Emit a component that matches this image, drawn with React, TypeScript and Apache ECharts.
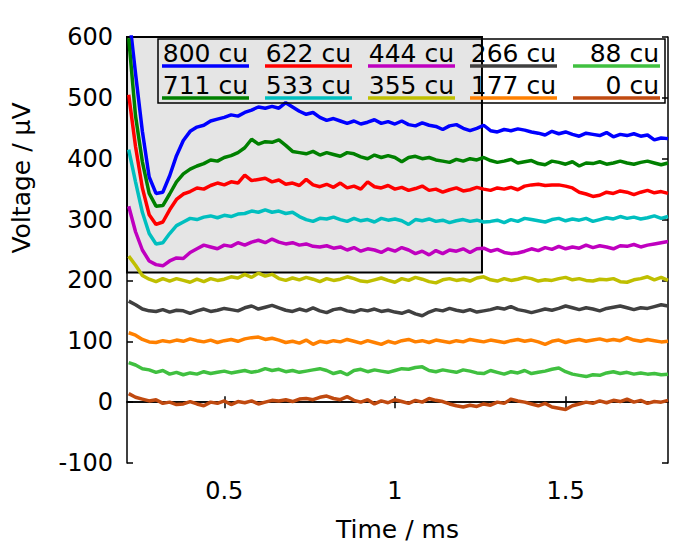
import React, { useEffect, useRef } from "react";
import * as echarts from "echarts";

// ---- data ----
const TIME_START = 0.22;
const TIME_STEP = 0.02;
const TIME_COUNT = 80;
const TIMES: number[] = Array.from({ length: TIME_COUNT }, (_, i) => +(TIME_START + TIME_STEP * i).toFixed(2));

const X_MIN = 0.215;
const X_MAX = 1.8;
const X_TICKS = [0.5, 1, 1.5];
const Y_MIN = -100;
const Y_MAX = 600;
const Y_STEP = 100;

const V800 = [
  640, 540, 445, 370, 343, 345, 372, 405, 430, 445,
  452, 455, 462, 465, 468, 472, 470, 476, 480, 485,
  483, 486, 483, 492, 485, 478, 473, 476, 468, 463,
  466, 462, 458, 462, 457, 460, 464, 458, 461, 457,
  462, 456, 454, 459, 455, 453, 448, 454, 456, 450,
  446, 450, 455, 446, 444, 448, 446, 449, 447, 444,
  442, 439, 445, 441, 444, 440, 437, 442, 440, 438,
  443, 436, 440, 438, 441, 437, 439, 431, 434, 433,
];
const V711 = [
  598, 470, 395, 343, 322, 323, 342, 362, 375, 383,
  388, 392, 398, 396, 402, 405, 410, 418, 432, 424,
  428, 427, 431, 422, 412, 410, 408, 412, 406, 410,
  407, 404, 410, 408, 403, 400, 406, 402, 405, 402,
  395, 402, 404, 400, 402, 398, 396, 394, 399, 396,
  400, 398, 402, 397, 394, 396, 399, 393, 395, 397,
  392, 390, 396, 394, 391, 395, 388, 393, 392, 395,
  391, 393, 396, 393, 391, 394, 396, 393, 390, 393,
];
const V622 = [
  505, 420, 352, 308, 292, 296, 316, 333, 342, 346,
  352, 350, 356, 360, 357, 362, 360, 373, 364, 366,
  368, 362, 365, 358, 360, 356, 366, 357, 354, 358,
  353, 360, 352, 355, 350, 362, 354, 352, 356, 350,
  353, 348, 351, 355, 348, 350, 345, 349, 352, 347,
  349, 353, 350, 348, 352, 350, 353, 349, 355, 357,
  358, 356, 357, 357, 355, 352, 345, 342, 338, 340,
  345, 343, 347, 345, 341, 345, 348, 344, 346, 343,
];
const V533 = [
  415, 362, 312, 277, 260, 262, 277, 290, 296, 302,
  300, 304, 306, 303, 307, 305, 309, 310, 314, 312,
  316, 312, 314, 310, 312, 305, 300, 297, 302, 301,
  304, 300, 297, 302, 298, 300, 296, 302, 299, 301,
  298, 292, 300, 298, 301, 297, 299, 295, 298, 300,
  297, 299, 296, 297, 299, 295, 300, 297, 302, 300,
  298, 296, 300, 302, 298, 301, 299, 302, 297, 300,
  303, 301, 305, 302, 304, 301, 303, 306, 302, 305,
];
const V444 = [
  322, 280, 250, 232, 226, 224, 232, 237, 236, 246,
  252, 258, 255, 252, 258, 256, 262, 258, 263, 266,
  262, 268, 263, 260, 262, 258, 260, 256, 255, 257,
  253, 255, 250, 254, 248, 252, 250, 246, 252, 248,
  254, 250, 244, 248, 242, 249, 244, 250, 248, 252,
  246, 252, 253, 248, 251, 246, 244, 245, 248, 252,
  249, 254, 251, 256, 252, 255, 253, 258, 254, 257,
  255, 252, 257, 256, 259, 255, 258, 260, 262, 264,
];
const V355 = [
  240, 225, 208, 202, 198, 203, 199, 203, 200, 197,
  202, 198, 203, 200, 202, 206, 204, 210, 205, 212,
  207, 210, 203, 200, 204, 201, 205, 202, 198, 203,
  200, 202, 206, 203, 199, 198, 201, 204, 200, 197,
  203, 200, 205, 202, 198, 196, 201, 203, 200, 202,
  199, 204, 206, 201, 199, 203, 200, 202, 205, 203,
  199, 201, 200, 203, 205, 201, 203, 200, 199, 202,
  201, 203, 198, 197, 201, 203, 206, 201, 205, 200,
];
const V266 = [
  166, 160, 153, 150, 149, 152, 148, 151, 150, 146,
  150, 153, 149, 151, 154, 152, 150, 155, 158, 153,
  156, 159, 155, 151, 149, 153, 150, 155, 150, 147,
  152, 154, 150, 148, 152, 150, 153, 149, 151, 148,
  146, 150, 145, 142, 148, 152, 150, 154, 151, 149,
  152, 148, 150, 152, 155, 153, 157, 152, 150, 147,
  150, 153, 151, 154, 158, 155, 152, 155, 153, 150,
  154, 156, 158, 155, 152, 155, 154, 157, 160, 158,
];
const V177 = [
  114, 110, 103, 99, 98, 101, 99, 102, 100, 104,
  101, 99, 102, 98, 101, 103, 100, 104, 106, 107,
  103, 105, 102, 98, 100, 97, 102, 95, 100, 98,
  101, 99, 103, 100, 97, 101, 98, 95, 100, 97,
  101, 103, 99, 101, 98, 102, 100, 98, 101, 99,
  103, 101, 99, 102, 100, 98, 101, 103, 100, 102,
  99, 95, 100, 102, 98, 101, 103, 100, 102, 104,
  101, 103, 101, 106, 102, 100, 103, 101, 99, 100,
];
const V88 = [
  65, 61, 55, 53, 49, 52, 46, 49, 45, 48,
  46, 50, 47, 49, 51, 48, 50, 52, 49, 51,
  55, 52, 54, 50, 52, 49, 51, 53, 55, 52,
  47, 50, 45, 52, 54, 50, 53, 51, 49, 52,
  55, 54, 57, 58, 52, 50, 53, 51, 49, 53,
  51, 48, 47, 52, 49, 46, 50, 48, 52, 47,
  49, 51, 54, 56, 50, 46, 44, 42, 45, 44,
  48, 50, 47, 49, 46, 48, 46, 47, 45, 46,
];
const V0 = [
  14, 8, 5, 2, 4, -2, 0, -4, -3, 1,
  -3, -6, 0, -2, 2, -4, 1, -1, 2, -3,
  0, 3, 2, 4, 1, 5, 6, 4, 8, 10,
  6, 4, 9, 3, 0, 4, -3, 2, -1, 4,
  1, -2, 3, 0, 6, 3, 1, -3, -6, -8,
  -5, -7, -3, -5, 0, -2, 5, 2, 0, -3,
  -6, -2, -8, -10, -12, -6, -3, 0, -2, 2,
  -1, 3, 1, 5, 0, 3, -2, 1, 0, 3,
];

const LABELS = ["800 cu", "711 cu", "622 cu", "533 cu", "444 cu", "355 cu", "266 cu", "177 cu", "88 cu", "0 cu"];
const COLORS = ["#0000ff", "#008000", "#ff0000", "#00bfbf", "#bf00bf", "#bfbf00", "#404040", "#ff8000", "#40c040", "#c04a10"];
const VALUES = [V800, V711, V622, V533, V444, V355, V266, V177, V88, V0];

// inset box (time end, voltage bottom)
const BOX_T_END = 1.255;
const BOX_V_BOTTOM = 213;

const FONT = '"DejaVu Sans", "Liberation Sans", sans-serif';

export default function App() {
  const ref = useRef<HTMLDivElement>(null);
  useEffect(() => {
    if (!ref.current) return;
    const chart = echarts.init(ref.current, undefined, { renderer: "svg" });

    const series: any[] = VALUES.map((vals, i) => ({
      type: "line",
      name: LABELS[i],
      data: vals.map((v, j) => [TIMES[j], v]),
      showSymbol: false,
      symbol: "none",
      lineStyle: { color: COLORS[i], width: 3.5 },
      itemStyle: { color: COLORS[i] },
      clip: true,
      z: 3,
      ...(i === 0
        ? {
            markArea: {
              silent: true,
              itemStyle: { color: "#e5e5e5", borderColor: "#000", borderWidth: 2 },
              data: [[{ coord: [X_MIN, BOX_V_BOTTOM] }, { coord: [BOX_T_END, Y_MAX] }]],
            },
          }
        : {}),
    }));

    // legend graphic
    const colX = [162, 265, 368, 470, 573];
    const colW = 87;
    const rowTextY = [53, 85];
    const rowLineY = [66, 98];
    const legendEls: any[] = [
      {
        type: "rect",
        shape: { x: 158, y: 39, width: 507, height: 64 },
        style: { fill: "none", stroke: "#000", lineWidth: 1.5 },
        z: 100,
      },
    ];
    LABELS.forEach((lab, i) => {
      const col = Math.floor(i / 2);
      const row = i % 2;
      const x0 = colX[col];
      legendEls.push({
        type: "line",
        shape: { x1: x0, y1: rowLineY[row], x2: x0 + colW, y2: rowLineY[row] },
        style: { stroke: COLORS[i], lineWidth: 3.5 },
        z: 100,
      });
      legendEls.push({
        type: "text",
        x: x0 + colW - 1,
        y: rowTextY[row],
        style: {
          text: lab,
          font: `25px ${FONT}`,
          fill: "#000",
          textAlign: "right",
          textVerticalAlign: "middle",
        },
        z: 100,
      });
    });
    legendEls.push({
      type: "text",
      x: 21,
      y: 178,
      rotation: Math.PI / 2,
      style: {
        text: "Voltage / µV",
        font: `25px ${FONT}`,
        fill: "#000",
        textAlign: "center",
        textVerticalAlign: "middle",
      },
    });

    const axisLine = { show: true, lineStyle: { color: "#000", width: 1.5 } };
    chart.setOption({
      animation: false,
      backgroundColor: "#fff",
      grid: { left: 127, right: 17, top: 37, bottom: 87, containLabel: false },
      xAxis: [
        {
          type: "value",
          min: X_MIN,
          max: X_MAX,
          position: "bottom",
          axisLine,
          axisTick: { show: true, inside: true, length: 6, customValues: X_TICKS, lineStyle: { color: "#000", width: 1.5 } },
          axisLabel: { customValues: X_TICKS, color: "#000", fontSize: 24, fontFamily: FONT, margin: 16 },
          splitLine: { show: false },
          name: "Time / ms",
          nameLocation: "middle",
          nameGap: 54,
          nameTextStyle: { color: "#000", fontSize: 25, fontFamily: FONT },
        },
        {
          type: "value",
          min: X_MIN,
          max: X_MAX,
          position: "top",
          axisLine,
          axisTick: { show: true, inside: true, length: 6, customValues: X_TICKS, lineStyle: { color: "#000", width: 1.5 } },
          axisLabel: { show: false },
          splitLine: { show: false },
        },
      ],
      yAxis: [
        {
          type: "value",
          min: Y_MIN,
          max: Y_MAX,
          interval: Y_STEP,
          position: "left",
          axisLine,
          axisTick: { show: true, inside: true, length: 6, lineStyle: { color: "#000", width: 1.5 } },
          axisLabel: { color: "#000", fontSize: 24, fontFamily: FONT, margin: 14 },
          splitLine: { show: false },
        },
        {
          type: "value",
          min: Y_MIN,
          max: Y_MAX,
          interval: Y_STEP,
          position: "right",
          axisLine,
          axisTick: { show: true, inside: true, length: 6, lineStyle: { color: "#000", width: 1.5 } },
          axisLabel: { show: false },
          splitLine: { show: false },
        },
      ],
      series,
      graphic: legendEls,
    });
    return () => chart.dispose();
  }, []);
  return <div ref={ref} style={{ position: "fixed", left: 0, top: 0, width: 685, height: 550 }} />;
}
